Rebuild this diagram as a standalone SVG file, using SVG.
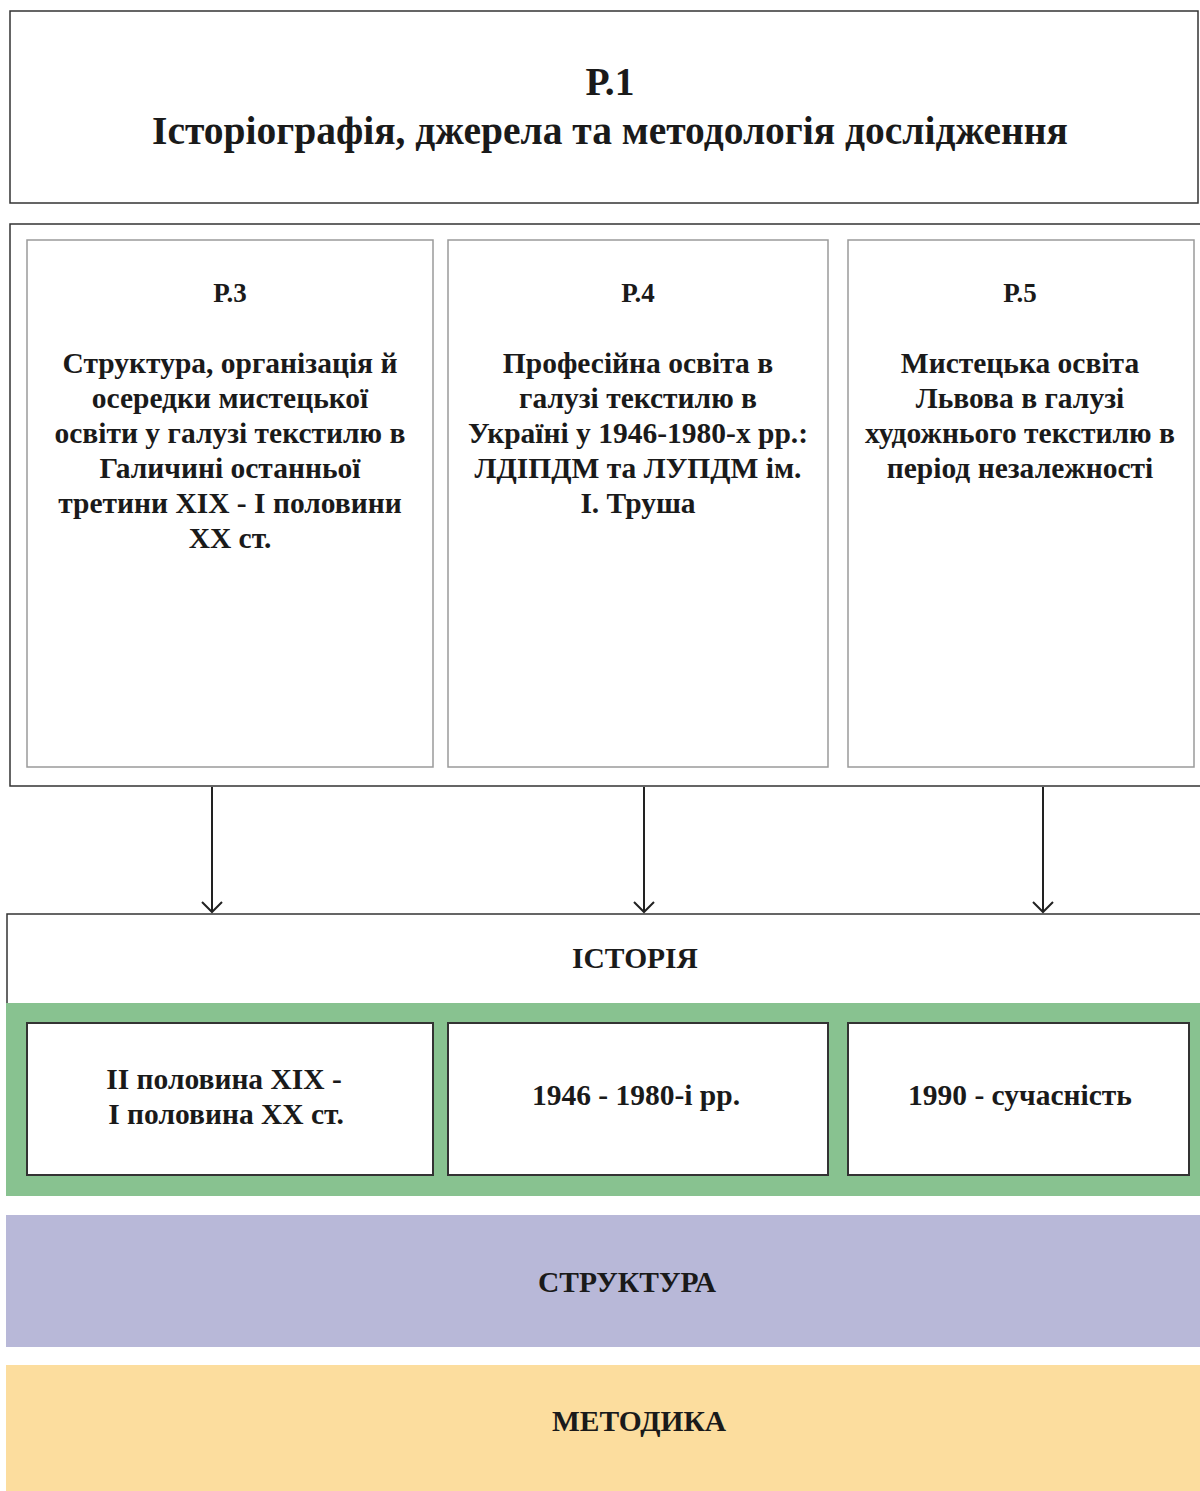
<svg xmlns="http://www.w3.org/2000/svg" width="1200" height="1491" viewBox="0 0 1200 1491">
<style>
text{font-family:"Liberation Serif","Times New Roman",serif;font-weight:bold;fill:#1a1a1a;text-anchor:middle}
.t1{font-size:39.5px}
.t2{font-size:27px}
.t3{font-size:29.5px}
.frame{fill:#fff;stroke:#333;stroke-width:1.5}
.inner{fill:#fff;stroke:#9a9a9a;stroke-width:1.5}
.per{fill:#fff;stroke:#333;stroke-width:2}
.conn{stroke:#222;stroke-width:2;fill:none}
</style>
<defs>
<marker id="arr" markerWidth="14" markerHeight="24" refX="12" refY="12" orient="auto" markerUnits="userSpaceOnUse" viewBox="0 0 14 24">
<path d="M2,2 L12,12 L2,22" fill="none" stroke="#222" stroke-width="2"/>
</marker>
</defs>
<rect width="1200" height="1491" fill="#fff"/>
<g id="p1">
<rect class="frame" x="10" y="11" width="1188" height="192"/>
<text class="t1" x="610" y="95">Р.1</text>
<text class="t1" x="610" y="144">Історіографія, джерела та методологія дослідження</text>
</g>
<g id="outer">
<path class="frame" d="M1201,224 H10 V786 H1201"/>
</g>
<g id="p3">
<rect class="inner" x="27" y="240" width="406" height="527"/>
<text class="t2" x="230" y="302">Р.3</text>
<text class="t3" x="230" y="373">Структура, організація й</text>
<text class="t3" x="230" y="408">осередки мистецької</text>
<text class="t3" x="230" y="443">освіти у галузі текстилю в</text>
<text class="t3" x="230" y="478">Галичині останньої</text>
<text class="t3" x="230" y="513">третини ХІХ - І половини</text>
<text class="t3" x="230" y="548">ХХ ст.</text>
</g>
<g id="p4">
<rect class="inner" x="448" y="240" width="380" height="527"/>
<text class="t2" x="638" y="302">Р.4</text>
<text class="t3" x="638" y="373">Професійна освіта в</text>
<text class="t3" x="638" y="408">галузі текстилю в</text>
<text class="t3" x="638" y="443">Україні у 1946-1980-х рр.:</text>
<text class="t3" x="638" y="478">ЛДІПДМ та ЛУПДМ ім.</text>
<text class="t3" x="638" y="513">І. Труша</text>
</g>
<g id="p5">
<rect class="inner" x="848" y="240" width="346" height="527"/>
<text class="t2" x="1020" y="302">Р.5</text>
<text class="t3" x="1020" y="373">Мистецька освіта</text>
<text class="t3" x="1020" y="408">Львова в галузі</text>
<text class="t3" x="1020" y="443">художнього текстилю в</text>
<text class="t3" x="1020" y="478">період незалежності</text>
</g>
<g id="history">
<path class="frame" d="M1201,914 H7 V1003"/>
<text class="t3" x="635" y="968">ІСТОРІЯ</text>
</g>
<g id="green">
<rect x="6" y="1003" width="1195" height="193" fill="#88c290"/>
</g>
<g id="period1">
<rect class="per" x="27" y="1023" width="406" height="152"/>
<text class="t3" x="224" y="1089">ІІ половина ХІХ -</text>
<text class="t3" x="226" y="1124">І половина ХХ ст.</text>
</g>
<g id="period2">
<rect class="per" x="448" y="1023" width="380" height="152"/>
<text class="t3" x="636" y="1105">1946 - 1980-і рр.</text>
</g>
<g id="period3">
<rect class="per" x="848" y="1023" width="341" height="152"/>
<text class="t3" x="1020" y="1105">1990 - сучасність</text>
</g>
<g id="structure">
<rect x="6" y="1215" width="1195" height="132" fill="#b8b8d8"/>
<text class="t3" x="627" y="1292">СТРУКТУРА</text>
</g>
<g id="method">
<rect x="6" y="1365" width="1195" height="127" fill="#fcdd9e"/>
<text class="t3" x="639" y="1431">МЕТОДИКА</text>
</g>
<g id="connectors">
<line class="conn" x1="212" y1="787" x2="212" y2="912" marker-end="url(#arr)"/>
<line class="conn" x1="644" y1="787" x2="644" y2="912" marker-end="url(#arr)"/>
<line class="conn" x1="1043" y1="787" x2="1043" y2="912" marker-end="url(#arr)"/>
</g>
</svg>
